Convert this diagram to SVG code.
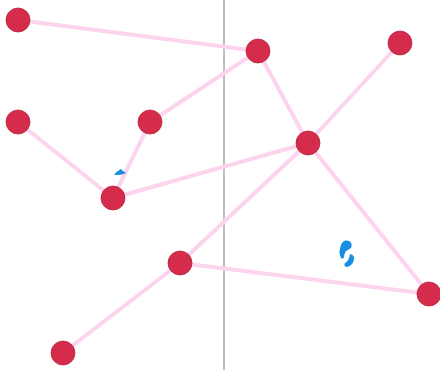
<svg xmlns="http://www.w3.org/2000/svg" width="440" height="370" viewBox="0 0 440 370">
<style>
.edge{stroke:#fcd4ee;stroke-width:4;stroke-linecap:round;fill:none}
.node{fill:#d42c4a;stroke:#b5283f;stroke-width:0.8}
.blot{fill:#1a8ee0}
</style>
<rect width="440" height="370" fill="#ffffff"/>
<line x1="224" y1="0" x2="224" y2="370" stroke="#a8a8a8" stroke-width="1.5"/>
<g id="connectors">
<line class="edge" x1="18" y1="20" x2="258" y2="51"/>
<line class="edge" x1="258" y1="51" x2="150" y2="122"/>
<line class="edge" x1="258" y1="51" x2="308" y2="143"/>
<line class="edge" x1="400" y1="43" x2="308" y2="143"/>
<line class="edge" x1="18" y1="122" x2="113" y2="198"/>
<line class="edge" x1="150" y1="122" x2="113" y2="198"/>
<line class="edge" x1="113" y1="198" x2="308" y2="143"/>
<line class="edge" x1="308" y1="143" x2="180" y2="263"/>
<line class="edge" x1="308" y1="143" x2="429" y2="294"/>
<line class="edge" x1="180" y1="263" x2="429" y2="294"/>
<line class="edge" x1="180" y1="263" x2="63" y2="353"/>
</g>
<g id="n1"><circle class="node" cx="18" cy="20" r="12"/></g>
<g id="n2"><circle class="node" cx="258" cy="51" r="12"/></g>
<g id="n3"><circle class="node" cx="400" cy="43" r="12"/></g>
<g id="n4"><circle class="node" cx="18" cy="122" r="12"/></g>
<g id="n5"><circle class="node" cx="150" cy="122" r="12"/></g>
<g id="n6"><circle class="node" cx="308" cy="143" r="12"/></g>
<g id="n7"><circle class="node" cx="113" cy="198" r="12"/></g>
<g id="n8"><circle class="node" cx="180" cy="263" r="12"/></g>
<g id="n9"><circle class="node" cx="429" cy="294" r="12"/></g>
<g id="n10"><circle class="node" cx="63" cy="353" r="12"/></g>
<path class="blot" d="M114 175 q3 -4 7 -6 l2 2 q2 1 3 2 q-4 2 -8 2 z"/>
<path class="blot" d="M341 245 q2 -6 8 -4 q4 2 2 7 q-3 2 -5 3 q-2 3 -2 6 q-1 3 -3 1 q-3 -6 0 -13 z"/>
<path class="blot" d="M350 254 q5 1 4 6 q-2 6 -7 7 q-4 -1 -2 -4 q4 -2 5 -9 z"/>
</svg>
